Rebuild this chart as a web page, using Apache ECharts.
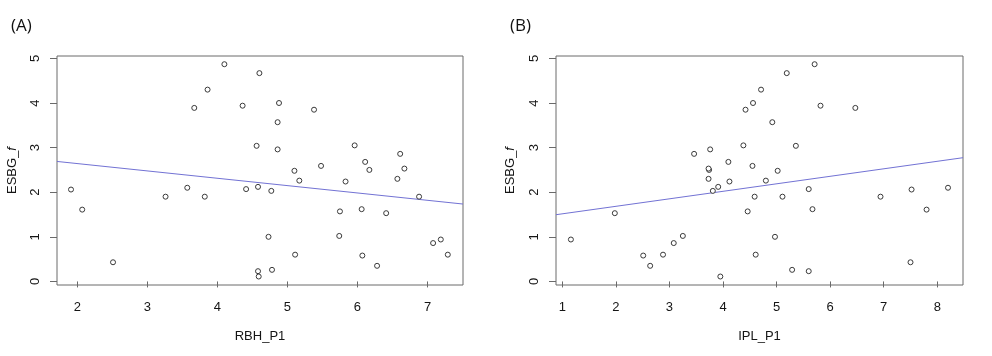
<!DOCTYPE html>
<html>
<head>
<meta charset="utf-8">
<script src="https://cdn.jsdelivr.net/npm/echarts@6.0.0/dist/echarts.min.js"></script>
<style>
  html, body { margin: 0; padding: 0; background: #fff; }
  #chart { width: 992px; height: 356px; }
</style>
</head>
<body>
<div id="chart"></div>
<script>
// ESBG_f values (shared by both panels)
const esbg = [4.87, 4.67, 4.30, 3.89, 3.94, 4.00, 3.85, 3.57, 3.04, 2.96, 3.05, 2.86, 2.68, 2.50, 2.53,
              2.48, 2.59, 2.26, 2.30, 2.24, 2.06, 2.10, 2.07, 2.12, 2.03, 1.90, 1.90, 1.90, 1.61, 1.57,
              1.62, 1.53, 0.43, 1.00, 1.02, 0.60, 0.23, 0.11, 0.26, 0.58, 0.35, 0.86, 0.94, 0.60];
// RBH_P1 values (panel A)
const rbh = [4.10, 4.60, 3.86, 3.67, 4.36, 4.88, 5.38, 4.86, 4.56, 4.86, 5.96, 6.61, 6.11, 6.17, 6.67,
             5.10, 5.48, 5.17, 6.57, 5.83, 1.91, 3.57, 4.41, 4.58, 4.77, 3.26, 3.82, 6.88, 2.07, 5.75,
             6.06, 6.41, 2.51, 4.73, 5.74, 5.11, 4.58, 4.59, 4.78, 6.07, 6.28, 7.08, 7.19, 7.29];
// IPL_P1 values (panel B)
const ipl = [5.71, 5.19, 4.71, 6.47, 5.82, 4.56, 4.42, 4.92, 5.36, 3.76, 4.38, 3.46, 4.10, 3.74, 3.73,
             5.02, 4.55, 4.80, 3.73, 4.12, 7.52, 8.20, 5.60, 3.91, 3.81, 4.59, 5.11, 6.94, 7.80, 4.46,
             5.67, 1.98, 7.50, 4.97, 3.25, 4.61, 5.60, 3.95, 5.29, 2.51, 2.64, 3.08, 1.16, 2.88];
// fitted regression line end points [x, y]
const fitA = [[1.71, 2.69], [7.507, 1.735]];
const fitB = [[0.882, 1.496], [8.48, 2.774]];
// axis ranges
const xRangeA = [1.71, 7.507];
const xRangeB = [0.882, 8.48];
const yRange = [-0.08, 5.054];
// tick labels
const xTicksA = [2, 3, 4, 5, 6, 7];
const xTicksB = [1, 2, 3, 4, 5, 6, 7, 8];
const yTicks = [0, 1, 2, 3, 4, 5];
const panelLabels = ['(A)', '(B)'];
const xNames = ['RBH_P1', 'IPL_P1'];

const FONT = "'Liberation Sans Narrow', 'Liberation Sans', Arial, sans-serif";
const TXT = '#151515';
const BOX = '#6a6a6a';

function xAxisDef(idx, range, ticks, name) {
  return {
    type: 'value', gridIndex: idx, min: range[0], max: range[1],
    splitLine: { show: false },
    axisLine: { show: false },
    axisTick: { show: true, inside: false, length: 6, customValues: ticks, lineStyle: { color: BOX, width: 1 } },
    axisLabel: { show: true, customValues: ticks, margin: 16, color: TXT, fontSize: 13, fontFamily: FONT },
    name: name, nameLocation: 'middle', nameGap: 45,
    nameTextStyle: { color: TXT, fontSize: 13, fontFamily: FONT }
  };
}
function yAxisDef(idx, gap) {
  return {
    type: 'value', gridIndex: idx, min: yRange[0], max: yRange[1],
    splitLine: { show: false },
    axisLine: { show: false },
    axisTick: { show: true, inside: false, length: 7, customValues: yTicks, lineStyle: { color: BOX, width: 1 } },
    axisLabel: { show: true, customValues: yTicks, rotate: 90, margin: 15, color: TXT, fontSize: 13, fontFamily: FONT },
    name: 'ESBG_{i|f}', nameLocation: 'middle', nameGap: gap, nameRotate: 90,
    nameTextStyle: { color: TXT, fontSize: 13, fontFamily: FONT,
      rich: { i: { fontStyle: 'italic', color: TXT, fontSize: 13, fontFamily: FONT } } }
  };
}
function pts(xs) { return xs.map((x, i) => [x, esbg[i]]); }

const scatterStyle = {
  type: 'scatter', symbol: 'circle', symbolSize: 5,
  itemStyle: { color: '#fff', borderColor: '#3a3a3a', borderWidth: 1, opacity: 1 },
  silent: true, z: 3
};
const lineStyle = { type: 'line', symbol: 'none', silent: true, lineStyle: { color: '#7272d4', width: 1 }, z: 2 };

const chart = echarts.init(document.getElementById('chart'), null, { renderer: 'canvas' });
chart.setOption({
  animation: false,
  backgroundColor: '#fff',
  title: [
    { text: panelLabels[0], left: 6, top: 13, textStyle: { fontFamily: "'Open Sans', sans-serif", fontSize: 17, fontWeight: 'normal', color: '#111' } },
    { text: panelLabels[1], left: 505, top: 13, textStyle: { fontFamily: "'Open Sans', sans-serif", fontSize: 17, fontWeight: 'normal', color: '#111' } }
  ],
  grid: [
    { left: 57, top: 56, width: 406, height: 229, show: true, borderColor: BOX, borderWidth: 1, backgroundColor: 'transparent' },
    { left: 556, top: 56, width: 407, height: 229, show: true, borderColor: BOX, borderWidth: 1, backgroundColor: 'transparent' }
  ],
  xAxis: [xAxisDef(0, xRangeA, xTicksA, xNames[0]), xAxisDef(1, xRangeB, xTicksB, xNames[1])],
  yAxis: [yAxisDef(0, 38), yAxisDef(1, 39)],
  series: [
    Object.assign({}, lineStyle, { xAxisIndex: 0, yAxisIndex: 0, data: fitA }),
    Object.assign({}, scatterStyle, { xAxisIndex: 0, yAxisIndex: 0, data: pts(rbh) }),
    Object.assign({}, lineStyle, { xAxisIndex: 1, yAxisIndex: 1, data: fitB }),
    Object.assign({}, scatterStyle, { xAxisIndex: 1, yAxisIndex: 1, data: pts(ipl) })
  ]
});
</script>
</body>
</html>
